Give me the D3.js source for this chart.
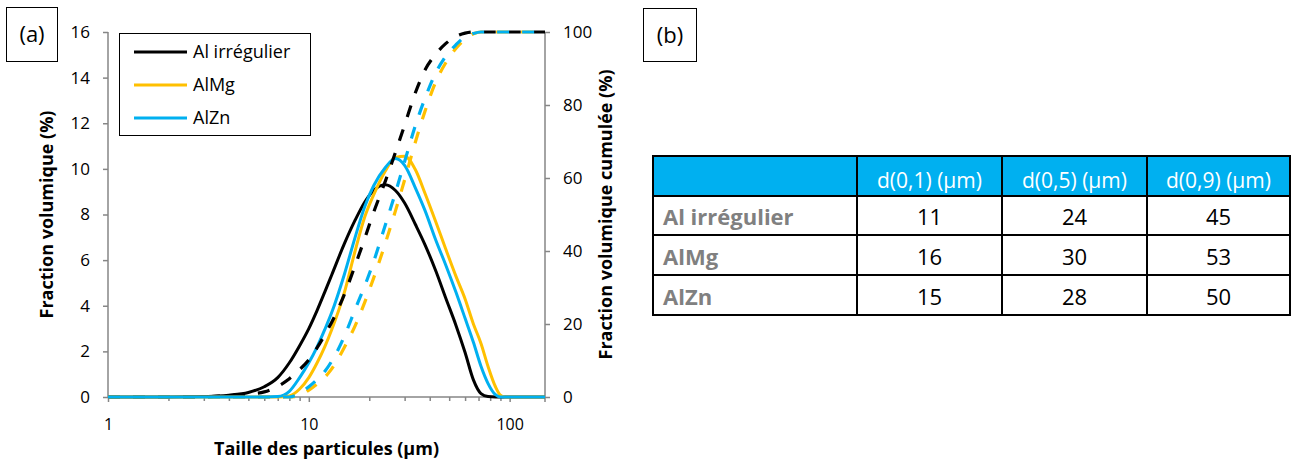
<!DOCTYPE html>
<html><head><meta charset="utf-8">
<script src="https://cdn.jsdelivr.net/npm/d3@7"></script>
<style>
html,body{margin:0;padding:0;background:#fff;}
svg{display:block;font-family:"Open Sans",Lato,sans-serif;}
</style></head>
<body>
<svg id="chart" width="1292" height="459"></svg>
<script>
// ---------- data ----------
const sizes = [1,2,3,4,5,6,7,8,9,10,11,12,13,15,17,19,21,24,27,30,34,38,43,48,54,60,66,72,78,85,90,95,150];
const seriesNames = ["Al irrégulier","AlMg","AlZn"];
const seriesColors = ["#000000","#FFC000","#00B0F0"];
// volume fraction (%) - left axis
const fracAl   = [0,0,0.02,0.08,0.2,0.45,0.85,1.5,2.25,3.0,3.8,4.6,5.35,6.7,7.75,8.55,9.05,9.3,9.05,8.5,7.55,6.65,5.5,4.35,3.15,1.95,0.75,0.15,0.02,0,0,0,0];
const fracAlMg = [0,0,0,0,0,0,0,0.05,0.35,0.85,1.5,2.2,2.95,4.55,6.4,7.9,8.85,9.9,10.5,10.55,9.95,8.9,7.65,6.5,5.3,4.3,3.2,2.35,1.35,0.45,0.08,0,0];
const fracAlZn = [0,0,0,0,0,0,0.02,0.25,0.85,1.5,2.2,2.95,3.7,5.35,7.0,8.35,9.25,10.05,10.45,10.15,9.15,8.15,6.85,5.8,4.6,3.45,2.4,1.35,0.6,0.1,0,0,0];
// cumulative volume fraction (%) - right axis
const cumAl   = [0,0,0.1,0.4,0.8,1.4,2.9,5.0,7.5,10.2,13.5,17,20.5,28,36,43.5,50.5,59,67,74.5,83.5,89.7,94,96.8,98.8,99.7,100,100,100,100,100,100,100];
const cumAlMg = [0,0,0,0,0,0,0,0,0.4,1.9,3.6,5.4,7.7,13.5,19.5,26,32.5,42,51,59.5,70,78.5,86.5,91.5,95.5,98,99.5,100,100,100,100,100,100];
const cumAlZn = [0,0,0,0,0,0,0,0,1.0,2.8,4.8,7.0,9.8,16.5,24,30.5,37,47,56,64.5,74.5,82,89,93.3,96.5,98.7,99.6,100,100,100,100,100,100];
const leftTicks = [0,2,4,6,8,10,12,14,16];
const rightTicks = [0,20,40,60,80,100];
const xMajorTicks = [1,10,100];
const xMinorTicks = [2,3,4,5,6,7,8,9,20,30,40,50,60,70,80,90];
// table
const tableHeaders = ["", "d(0,1) (µm)", "d(0,5) (µm)", "d(0,9) (µm)"];
const d10 = [11,16,15];
const d50 = [24,30,28];
const d90 = [45,53,50];

// ---------- layout ----------
const svg = d3.select("#chart");
const L = 108, R = 545, T = 32, B = 397;
const x = d3.scaleLog().domain([1,150]).range([L,R]);
const yL = d3.scaleLinear().domain([0,16]).range([B,T]);
const yR = d3.scaleLinear().domain([0,100]).range([B,T]);
const axisColor = "#868686";

// panel labels
function panelLabel(x0,y0,w,h,txt){
  svg.append("rect").attr("x",x0+0.5).attr("y",y0+0.5).attr("width",w).attr("height",h)
     .attr("fill","none").attr("stroke","#000").attr("stroke-width",1);
  svg.append("text").attr("x",x0+w/2+0.5).attr("y",y0+h/2+8).attr("text-anchor","middle")
     .attr("font-size",22).attr("fill","#000").text(txt);
}
panelLabel(6,7,51,54,"(a)");
panelLabel(643,8,53,53,"(b)");

// axes
const gAx = svg.append("g");
const leftAxis = d3.axisLeft(yL).tickValues(leftTicks).tickSize(5).tickPadding(13).tickFormat(d3.format("d"));
const gl = gAx.append("g").attr("transform",`translate(${L},0)`).call(leftAxis);
const rightAxis = d3.axisRight(yR).tickValues(rightTicks).tickSize(5).tickPadding(13).tickFormat(d3.format("d"));
const gr = gAx.append("g").attr("transform",`translate(${R},0)`).call(rightAxis);
const bottomAxis = d3.axisBottom(x).tickValues(xMajorTicks).tickSize(5).tickPadding(17).tickFormat(d3.format("d"));
const gb = gAx.append("g").attr("transform",`translate(0,${B})`).call(bottomAxis);
const bottomMinor = d3.axisBottom(x).tickValues(xMinorTicks).tickSize(4).tickFormat("");
const gbm = gAx.append("g").attr("transform",`translate(0,${B})`).call(bottomMinor);
gbm.select(".domain").remove();
[gl,gr,gb,gbm].forEach(g=>{
  g.selectAll(".domain").attr("stroke",axisColor).attr("stroke-width",1.5);
  g.selectAll(".tick line").attr("stroke",axisColor).attr("stroke-width",1.5);
  g.selectAll(".tick text").attr("font-size",17).attr("fill","#000").attr("font-family","Open Sans");
});
gb.selectAll(".tick text").attr("font-size",16);
gl.select(".domain").attr("d",`M0,${B}V${T}`);
gr.select(".domain").attr("d",`M0,${B}V${T}`);
gb.select(".domain").attr("d",`M${L},0H${R}`);
gAx.append("line").attr("x1",R).attr("x2",R).attr("y1",B).attr("y2",B+5).attr("stroke",axisColor).attr("stroke-width",1.5);

// axis titles
svg.append("text").attr("transform",`translate(53,${(T+B)/2}) rotate(-90)`).attr("text-anchor","middle")
  .attr("font-size",18).attr("font-weight","bold").text("Fraction volumique (%)");
svg.append("text").attr("transform",`translate(612,${(T+B)/2}) rotate(-90)`).attr("text-anchor","middle")
  .attr("font-size",18).attr("font-weight","bold").text("Fraction volumique cumulée (%)");
svg.append("text").attr("x",(L+R)/2).attr("y",455).attr("text-anchor","middle")
  .attr("font-size",18).attr("font-weight","bold").text("Taille des particules (µm)");

// curves
const fracs = [fracAl, fracAlMg, fracAlZn];
const cums = [cumAl, cumAlMg, cumAlZn];
const lineL = d3.line().x((d,i)=>x(sizes[i])).y(d=>yL(d)).curve(d3.curveMonotoneX);
const lineR = d3.line().x((d,i)=>x(sizes[i])).y(d=>yR(d)).curve(d3.curveMonotoneX);
const gC = svg.append("g");
fracs.forEach((s,k)=>{
  gC.append("path").attr("d",lineL(s)).attr("fill","none").attr("stroke",seriesColors[k])
    .attr("stroke-width",3).attr("stroke-linejoin","round");
});
cums.forEach((s,k)=>{
  gC.append("path").attr("d",lineR(s)).attr("fill","none").attr("stroke",seriesColors[k])
    .attr("stroke-width",3.2).attr("stroke-dasharray","12,13");
});

// legend
const lg = svg.append("g");
lg.append("rect").attr("x",119.5).attr("y",33.5).attr("width",191).attr("height",102)
  .attr("fill","#fff").attr("stroke","#000").attr("stroke-width",1);
seriesNames.forEach((n,i)=>{
  const yy = 52 + i*33;
  lg.append("line").attr("x1",134).attr("x2",187).attr("y1",yy).attr("y2",yy)
    .attr("stroke",seriesColors[i]).attr("stroke-width",3);
  lg.append("text").attr("x",193).attr("y",yy+6).attr("font-size",18).text(n);
});

// table
const colX = [653,857,1002,1147,1290];
const rowY = [156,196,235,275,315];
const tg = svg.append("g");
tg.append("rect").attr("x",colX[0]).attr("y",rowY[0]).attr("width",colX[4]-colX[0]).attr("height",rowY[1]-rowY[0]).attr("fill","#00B0F0");
tableHeaders.forEach((h,j)=>{
  if(!h) return;
  tg.append("text").attr("x",(colX[j]+colX[j+1])/2).attr("y",rowY[1]-8)
    .attr("text-anchor","middle").attr("font-size",21).attr("fill","#fff").text(h);
});
const cols = [d10,d50,d90];
seriesNames.forEach((n,i)=>{
  const cy = rowY[i+2]-10;
  tg.append("text").attr("x",colX[0]+10).attr("y",cy).attr("font-size",22).attr("font-weight","bold")
    .attr("fill","#808080").text(n);
  cols.forEach((c,j)=>{
    tg.append("text").attr("x",(colX[j+1]+colX[j+2])/2).attr("y",cy).attr("text-anchor","middle")
      .attr("font-size",22).attr("fill","#000").text(c[i]);
  });
});
rowY.forEach(y=>tg.append("line").attr("x1",colX[0]-1).attr("x2",colX[4]+1).attr("y1",y).attr("y2",y).attr("stroke","#000").attr("stroke-width",2));
colX.forEach(xx=>tg.append("line").attr("x1",xx).attr("x2",xx).attr("y1",rowY[0]).attr("y2",rowY[4]).attr("stroke","#000").attr("stroke-width",2));
</script>
</body></html>
